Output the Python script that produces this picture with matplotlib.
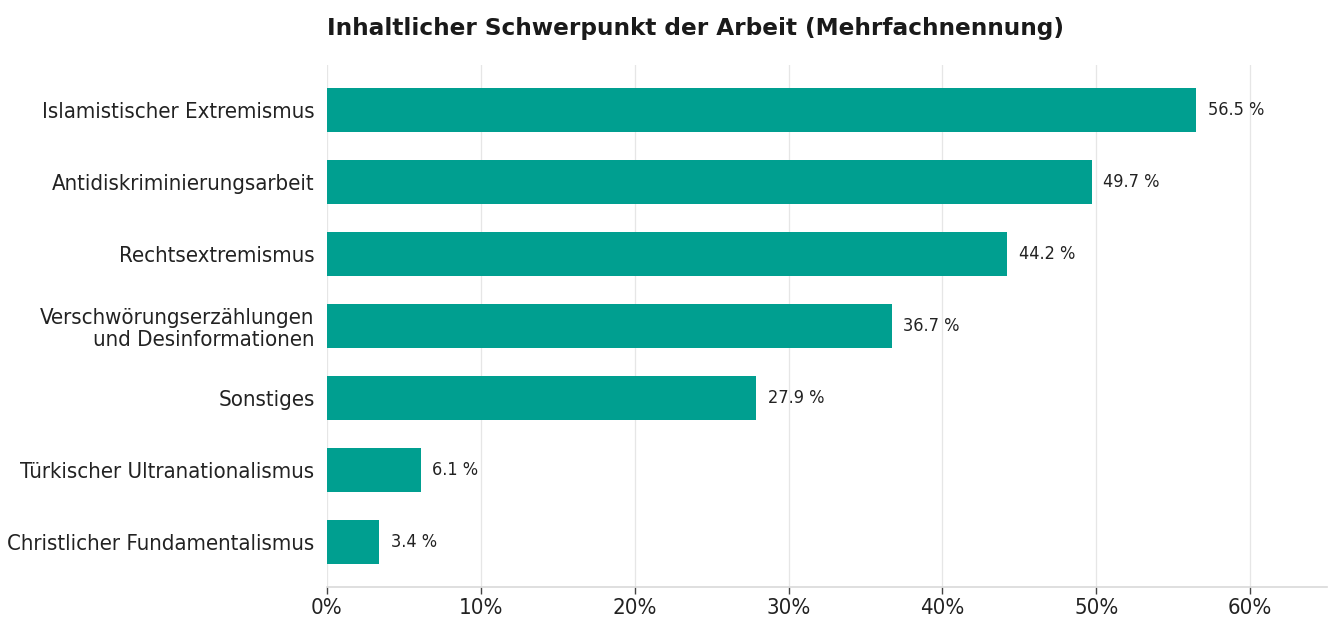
import matplotlib
matplotlib.use("Agg")
import matplotlib.pyplot as plt
from matplotlib.ticker import FuncFormatter

categories = [
    "Islamistischer Extremismus",
    "Antidiskriminierungsarbeit",
    "Rechtsextremismus",
    "Verschwörungserzählungen\nund Desinformationen",
    "Sonstiges",
    "Türkischer Ultranationalismus",
    "Christlicher Fundamentalismus",
]
values = [56.5, 49.7, 44.2, 36.7, 27.9, 6.1, 3.4]
title = "Inhaltlicher Schwerpunkt der Arbeit (Mehrfachnennung)"
xticks = [0, 10, 20, 30, 40, 50, 60]

plt.rcParams['font.family'] = ['DejaVu Sans']

fig = plt.figure(figsize=(13.32, 6.19), dpi=100)
ax = fig.add_axes([327/1332, 1 - 587/619, 1000/1332, 522/619])

ypos = list(range(len(categories)))
ax.barh(ypos, values, height=0.6, color="#009F90", zorder=2)
for y, v in zip(ypos, values):
    ax.text(v + 0.75, y, f"{v:.1f} %", va="center", ha="left", fontsize=13,
            fontstretch="condensed", color="#222222")

ax.set_yticks(ypos)
ax.set_yticklabels(categories, fontsize=15.9, fontstretch="condensed",
                   color="#222222", linespacing=1.15)
ax.set_ylim(len(categories) - 1 + 0.625, -0.625)
ax.set_xlim(0, 65)
ax.set_xticks(xticks)
ax.xaxis.set_major_formatter(FuncFormatter(lambda x, p: f"{x:.0f}%"))
ax.tick_params(axis="x", colors="#222222", length=5, width=1, color="#444444", pad=3)
for lab in ax.get_xticklabels():
    lab.set_fontsize(15.9)
    lab.set_fontstretch("condensed")
ax.tick_params(axis="y", length=0, pad=9)
ax.grid(axis="x", color="#e6e6e6", linewidth=0.9, zorder=0)
ax.set_axisbelow(True)
for s in ["top", "right", "left"]:
    ax.spines[s].set_visible(False)
ax.spines["bottom"].set_color("#d9d9d9")
ax.spines["bottom"].set_linewidth(1.2)

fig.text(327/1332, 1 - 28/619, title, fontsize=16.7, fontweight="bold", color="#1a1a1a", ha="left", va="center")

fig.savefig("out.png", dpi=100)
